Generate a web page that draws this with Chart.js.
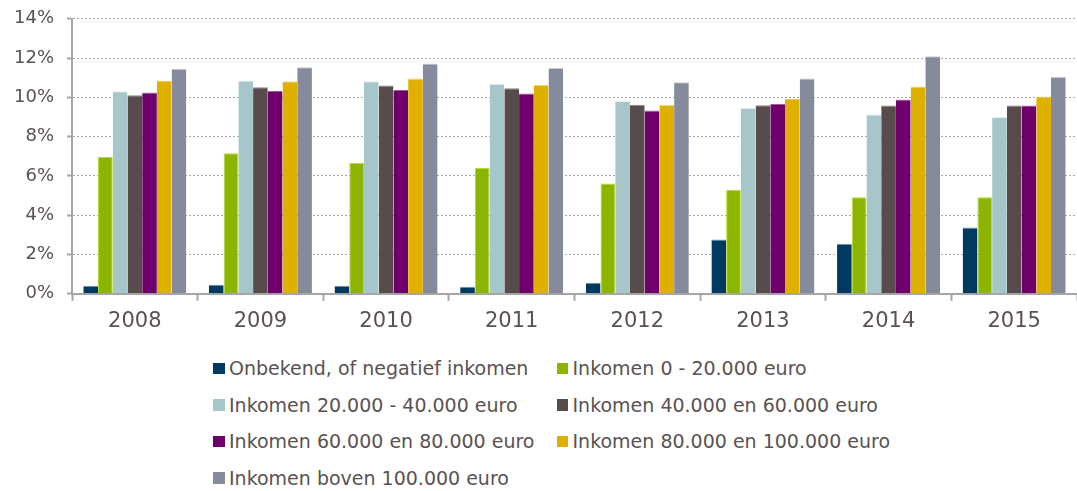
<!DOCTYPE html>
<html>
<head>
<meta charset="utf-8">
<script src="https://cdn.jsdelivr.net/npm/chart.js@4/dist/chart.umd.min.js"></script>
<style>
    body { margin: 0; background: #fff; font-family: "DejaVu Sans", Verdana, sans-serif; overflow: hidden; }
    #wrap { position: relative; width: 1077px; height: 491px; }
    #chart-box { position: absolute; left: 0; top: -5px; width: 1077px; height: 351px; }
    #legend { position: absolute; left: 213px; top: 350px; display: grid; grid-template-columns: 343.5px 343.5px; }
    .item { display: flex; align-items: center; height: 36.6px; color: #5a5252; font-size: 19px; white-space: nowrap; }
    .box { width: 11.5px; height: 11.5px; margin-right: 4.5px; flex: none; }
</style>
</head>
<body>
<div id="wrap">
    <div id="chart-box"><canvas id="chart"></canvas></div>
    <div id="legend"></div>
</div>
<script>
// Aandeel per inkomensklasse, in procenten
const years = ['2008', '2009', '2010', '2011', '2012', '2013', '2014', '2015'];
const seriesNames = [
    'Onbekend, of negatief inkomen',
    'Inkomen 0 - 20.000 euro',
    'Inkomen 20.000 - 40.000 euro',
    'Inkomen 40.000 en 60.000 euro',
    'Inkomen 60.000 en 80.000 euro',
    'Inkomen 80.000 en 100.000 euro',
    'Inkomen boven 100.000 euro'
];
const onbekend  = [0.41, 0.46, 0.41, 0.36, 0.56, 2.76, 2.54, 3.38];
const ink0_20   = [6.97, 7.15, 6.66, 6.41, 5.61, 5.29, 4.92, 4.92];
const ink20_40  = [10.31, 10.86, 10.82, 10.69, 9.82, 9.47, 9.13, 9.00];
const ink40_60  = [10.11, 10.52, 10.60, 10.47, 9.62, 9.60, 9.59, 9.59];
const ink60_80  = [10.25, 10.33, 10.37, 10.20, 9.33, 9.66, 9.89, 9.59];
const ink80_100 = [10.86, 10.82, 10.96, 10.64, 9.62, 9.94, 10.55, 10.04];
const inkBoven  = [11.46, 11.53, 11.72, 11.50, 10.77, 10.96, 12.09, 11.04];
const yTicks = [0, 2, 4, 6, 8, 10, 12, 14];

const colors = ['#003a63', '#8cb400', '#a6c6c9', '#574c4b', '#6f006b', '#e0b000', '#858b9a'];
const edgeColors = ['#6f8fa8', '#b4dc2a', '#e4f0f0', '#8a7f7e', '#a4589f', '#f4dc80', '#c4c8d2'];
const allSeries = [onbekend, ink0_20, ink20_40, ink40_60, ink60_80, ink80_100, inkBoven];

const textColor = '#5a5252';
const axisColor = '#a6a6a6';

document.addEventListener('DOMContentLoaded', () => {
    const ctx = document.getElementById('chart').getContext('2d');

    const datasets = allSeries.map((values, i) => ({
        label: seriesNames[i],
        data: values,
        backgroundColor: colors[i],
        borderColor: edgeColors[i],
        borderWidth: i === 1 ? { top: 1, left: 1, right: 1, bottom: 0 } : { top: 1, left: 0, right: 0, bottom: 0 },
        borderSkipped: false,
        categoryPercentage: 0.82,
        barPercentage: 1
    }));

    const chart = new Chart(ctx, {
        type: 'bar',
        data: { labels: years, datasets },
        options: {
            responsive: true,
            maintainAspectRatio: false,
            animation: false,
            layout: { padding: { top: 7, right: 0, bottom: 4, left: 0 } },
            plugins: {
                legend: { display: false },
                tooltip: { enabled: false }
            },
            scales: {
                x: {
                    offset: true,
                    grid: {
                        offset: true,
                        drawOnChartArea: false,
                        drawTicks: true,
                        tickLength: 7,
                        tickColor: axisColor,
                        tickWidth: 2
                    },
                    border: { display: true, color: axisColor, width: 2 },
                    ticks: {
                        color: textColor,
                        padding: 8,
                        font: { family: '"DejaVu Sans", Verdana, sans-serif', size: 21 }
                    }
                },
                y: {
                    min: 0,
                    max: 14,
                    afterFit: scale => { scale.width = 72; },
                    afterBuildTicks: scale => { scale.ticks = yTicks.map(v => ({ value: v })); },
                    grid: {
                        color: '#a8a8a8',
                        lineWidth: 1,
                        drawTicks: true,
                        tickLength: 5,
                        tickColor: axisColor,
                        tickWidth: 2,
                        tickBorderDash: []
                    },
                    border: { display: true, color: axisColor, width: 2, dash: [2, 2] },
                    ticks: {
                        color: textColor,
                        padding: 13,
                        font: { family: '"DejaVu Sans", Verdana, sans-serif', size: 18 },
                        callback: v => v + '%'
                    }
                }
            }
        }
    });

    // Legend in two columns, built from the chart's datasets
    const legend = document.getElementById('legend');
    chart.data.datasets.forEach(ds => {
        const item = document.createElement('div');
        item.className = 'item';
        const box = document.createElement('span');
        box.className = 'box';
        box.style.background = ds.backgroundColor;
        const label = document.createElement('span');
        label.textContent = ds.label;
        item.appendChild(box);
        item.appendChild(label);
        legend.appendChild(item);
    });
});
</script>
</body>
</html>
